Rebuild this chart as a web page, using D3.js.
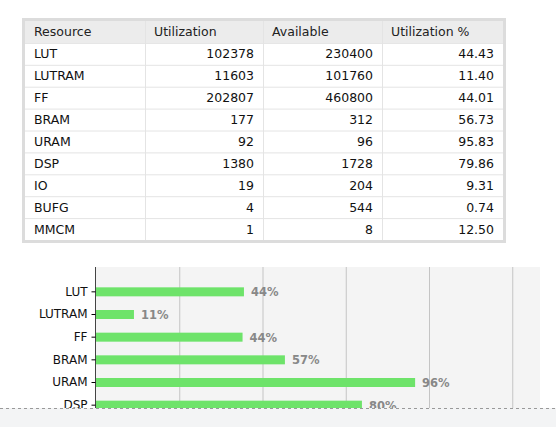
<!DOCTYPE html><html><head><meta charset="utf-8">
<script src="https://cdn.jsdelivr.net/npm/d3@7"></script>
<style>body{margin:0;background:#fff;font-family:"DejaVu Sans",sans-serif}</style></head><body>
<svg id="c" width="556" height="427"></svg>
<script>
const resources=["LUT","LUTRAM","FF","BRAM","URAM","DSP","IO","BUFG","MMCM"];
const utilization=[102378,11603,202807,177,92,1380,19,4,1];
const available=[230400,101760,460800,312,96,1728,204,544,8];
const utilPct=[44.43,11.40,44.01,56.73,95.83,79.86,9.31,0.74,12.50];
const headers=["Resource","Utilization","Available","Utilization %"];
const xTicks=[25,50,75,100,125];

const svg=d3.select("#c");
// table
const tx=[25,145,263,382,503], ty0=21, rh=21.9;
const t=svg.append("g");
t.append("rect").attr("x",23.5).attr("y",19.5).attr("width",481).attr("height",ty0+rh*10-18).attr("fill","#fff").attr("stroke","#dcdcdc").attr("stroke-width",3);
t.append("rect").attr("x",tx[0]).attr("y",ty0).attr("width",tx[4]-tx[0]).attr("height",rh).attr("fill","#ececec");
for(let i=1;i<=9;i++)t.append("line").attr("x1",tx[0]).attr("x2",tx[4]).attr("y1",ty0+rh*i+0.5).attr("y2",ty0+rh*i+0.5).attr("stroke","#e4e4e4");
for(let j=1;j<4;j++)t.append("line").attr("x1",tx[j]+0.5).attr("x2",tx[j]+0.5).attr("y1",ty0).attr("y2",ty0+rh*10).attr("stroke","#e4e4e4");
headers.forEach((h,j)=>t.append("text").attr("x",tx[j]+9).attr("y",ty0+rh/2+4.5).attr("font-size",12.5).attr("fill","#222").text(h));
resources.forEach((r,i)=>{
  const y=ty0+rh*(i+1)+rh/2+4.5;
  t.append("text").attr("x",tx[0]+9).attr("y",y).attr("font-size",12.5).attr("fill","#111").text(r);
  [utilization[i],available[i],utilPct[i].toFixed(2)].forEach((v,k)=>
    t.append("text").attr("x",tx[k+2]-9).attr("y",y).attr("text-anchor","end").attr("font-size",12.5).attr("fill","#111").text(v));
});
// chart
const x=d3.scaleLinear().domain([0,100]).range([96,429]);
const y=d3.scaleBand().domain(resources).range([280.5,484.5]).paddingInner(0.6).paddingOuter(0.3);
const c=svg.append("g");
const clip=svg.append("clipPath").attr("id","cl").append("rect").attr("x",0).attr("y",0).attr("width",556).attr("height",408);
const cg=c.append("g").attr("clip-path","url(#cl)");
cg.append("rect").attr("x",96).attr("y",267).attr("width",444).attr("height",160).attr("fill","#f4f4f4");
xTicks.forEach(v=>cg.append("line").attr("x1",x(v)+0.5).attr("x2",x(v)+0.5).attr("y1",267).attr("y2",427).attr("stroke","#c4c4c4"));
const ax=d3.axisLeft(y).tickSize(4).tickPadding(4);
const ag=cg.append("g").attr("transform","translate(95.5,0)").call(ax);
ag.select(".domain").attr("d","M0,267V427").attr("stroke","#444");
ag.selectAll("text").attr("font-size",12).attr("fill","#111").attr("font-family","DejaVu Sans");
cg.selectAll(".bar").data(resources).join("rect").attr("x",96).attr("y",d=>y(d)+y.bandwidth()/2-4.5).attr("height",9)
  .attr("width",(d,i)=>x(utilPct[i])-96).attr("fill","#6ee36a");
cg.selectAll(".lbl").data(resources).join("text").attr("x",(d,i)=>x(utilPct[i])+7).attr("y",d=>y(d)+y.bandwidth()/2+4.5)
  .attr("font-size",11.5).attr("font-weight","bold").attr("fill","#888").text((d,i)=>Math.round(utilPct[i])+"%");
svg.append("rect").attr("x",0).attr("y",408).attr("width",556).attr("height",19).attr("fill","#f3f4f5");
svg.append("line").attr("x1",0).attr("x2",556).attr("y1",408.5).attr("y2",408.5).attr("stroke","#999").attr("stroke-dasharray","3,3");
</script></body></html>
